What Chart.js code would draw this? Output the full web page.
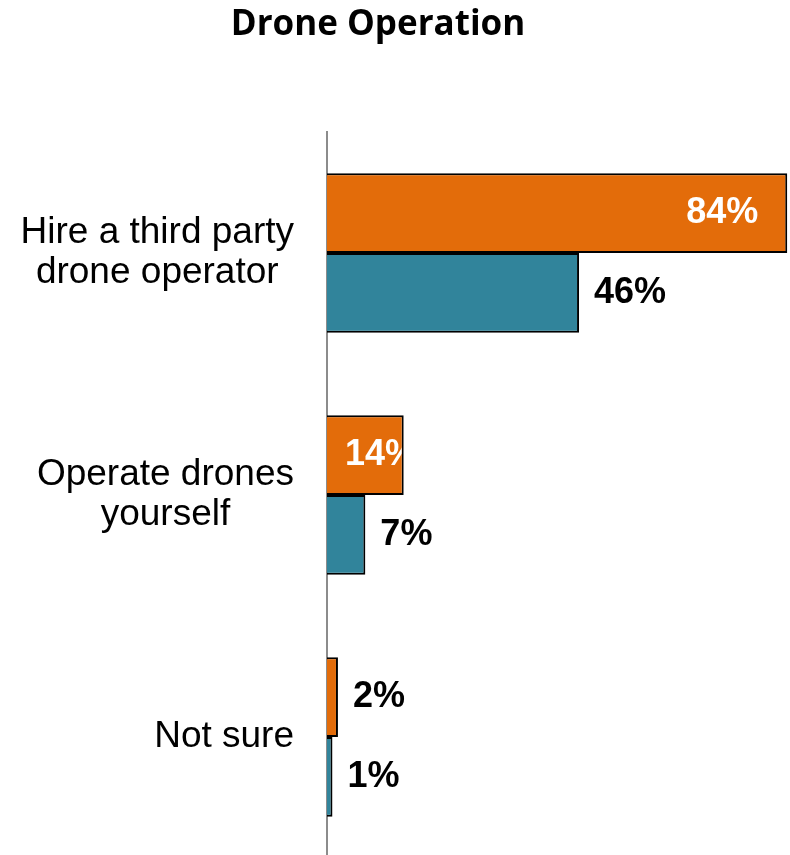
<!DOCTYPE html>
<html>
<head>
<meta charset="utf-8">
<script src="https://cdn.jsdelivr.net/npm/chart.js@4/dist/chart.umd.min.js"></script>
<style>
  html, body { margin: 0; padding: 0; background: #fff; overflow: hidden; }
  #wrap { width: 790px; height: 858px; }
</style>
</head>
<body>
<div id="wrap"><canvas id="c" width="790" height="858"></canvas></div>
<script>
// Chart content
const chartTitle = 'Drone Operation';
const categories = [
  ['Hire a third party', 'drone operator'],
  ['Operate drones', 'yourself'],
  ['Not sure']
];
const seriesNames = ['Group A', 'Group B'];
const groupAValues = [84, 14, 2];
const groupBValues = [46, 7, 1];

const ORANGE = '#E36C0A';
const TEAL = '#31849B';
const LABEL_FONT = 'bold 36px "Liberation Sans", Arial, sans-serif';
const CAT_FONT = '37px "Liberation Sans", Arial, sans-serif';

// Title drawn above the plot
const titlePlugin = {
  id: 'titleText',
  afterDraw(chart) {
    const ctx = chart.ctx;
    ctx.save();
    ctx.font = 'bold 35px "Open Sans", sans-serif';
    ctx.fillStyle = '#000';
    ctx.textAlign = 'center';
    ctx.textBaseline = 'middle';
    ctx.fillText(chartTitle, 378, 25);
    ctx.restore();
  }
};

// Category labels: each block right-aligned to the axis, lines centred within the block
const categoryLabelPlugin = {
  id: 'categoryLabels',
  afterDraw(chart) {
    const ctx = chart.ctx;
    const yScale = chart.scales.y;
    const right = chart.chartArea.left - 33;
    const lineH = 40;
    ctx.save();
    ctx.font = CAT_FONT;
    ctx.fillStyle = '#000';
    ctx.textAlign = 'center';
    ctx.textBaseline = 'middle';
    categories.forEach((lines, i) => {
      const cy = yScale.getPixelForTick(i);
      const blockW = Math.max(...lines.map(l => ctx.measureText(l).width));
      const cx = right - blockW / 2;
      const y0 = cy - (lines.length - 1) * lineH / 2;
      lines.forEach((l, k) => ctx.fillText(l, cx, y0 + k * lineH));
    });
    ctx.restore();
  }
};

// Value labels: white inside the orange bars when they fit, black after the bar otherwise
const valueLabelPlugin = {
  id: 'valueLabels',
  afterDatasetsDraw(chart) {
    const ctx = chart.ctx;
    ctx.save();
    ctx.font = LABEL_FONT;
    ctx.textBaseline = 'middle';
    chart.data.datasets.forEach((ds, di) => {
      const meta = chart.getDatasetMeta(di);
      meta.data.forEach((bar, i) => {
        const p = bar.getProps(['x', 'y', 'base', 'height'], true);
        const text = ds.data[i] + '%';
        const w = ctx.measureText(text).width;
        const len = p.x - p.base;
        if (di === 0 && len > 40) {
          ctx.save();
          const bw = 2;
          ctx.beginPath();
          ctx.rect(p.base, p.y - p.height / 2 + bw, len - bw, p.height - 2 * bw);
          ctx.clip();
          ctx.fillStyle = '#fff';
          if (len > w + 60) {
            ctx.textAlign = 'right';
            ctx.fillText(text, p.x - 29, p.y);
          } else {
            ctx.textAlign = 'left';
            ctx.fillText(text, p.base + 18, p.y);
          }
          ctx.restore();
        } else {
          ctx.fillStyle = '#000';
          ctx.textAlign = 'left';
          ctx.fillText(text, p.x + 15, p.y);
        }
      });
    });
    ctx.restore();
  }
};

new Chart(document.getElementById('c'), {
  type: 'bar',
  data: {
    labels: categories,
    datasets: [
      {
        label: seriesNames[0],
        data: groupAValues,
        backgroundColor: ORANGE,
        borderColor: '#000',
        borderWidth: 2,
        borderSkipped: 'start'
      },
      {
        label: seriesNames[1],
        data: groupBValues,
        backgroundColor: TEAL,
        borderColor: '#000',
        borderWidth: 2,
        borderSkipped: 'start'
      }
    ]
  },
  options: {
    indexAxis: 'y',
    responsive: false,
    animation: false,
    devicePixelRatio: 1,
    categoryPercentage: 0.66,
    barPercentage: 1.0,
    layout: { padding: { top: 132, left: 0, right: 0, bottom: 0 } },
    plugins: {
      legend: { display: false },
      title: { display: false },
      tooltip: { enabled: false }
    },
    scales: {
      x: {
        display: false,
        min: 0,
        max: 84.5
      },
      y: {
        grid: { display: false },
        ticks: { display: false },
        border: { display: true, color: '#8c8c8c', width: 2 },
        afterFit(scale) { scale.width = 327; }
      }
    }
  },
  plugins: [titlePlugin, categoryLabelPlugin, valueLabelPlugin]
});
</script>
</body>
</html>
